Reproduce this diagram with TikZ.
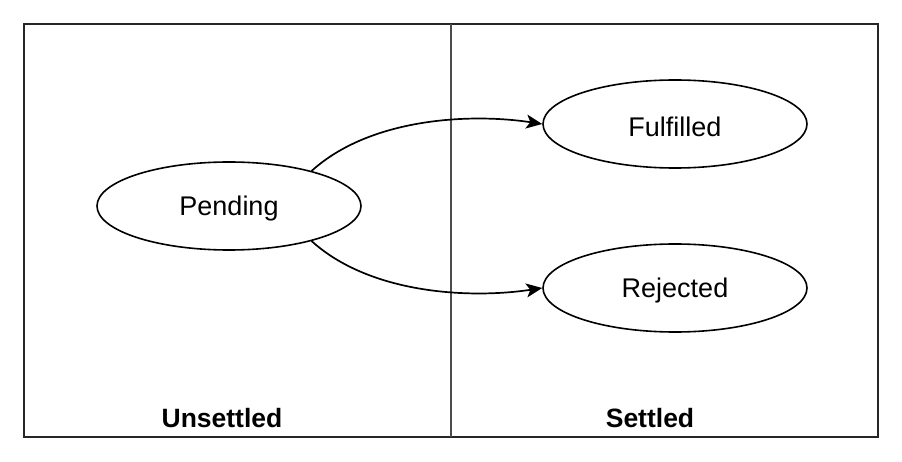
\documentclass[tikz,border=0pt]{standalone}
\usepackage{fontspec}
\setmainfont{Liberation Sans}
\usetikzlibrary{arrows.meta,shapes.geometric}
\newcommand{\lowertext}[1]{\raisebox{-2.5pt}[\height][\depth]{#1}}
\begin{document}
\begin{tikzpicture}[x=1pt,y=-1pt,
  state/.style={ellipse,draw=black,line width=1.6pt,minimum width=264pt,minimum height=88pt,inner sep=0pt,font=\fontsize{27}{32}\selectfont},
  zone/.style={font=\bfseries\fontsize{26.5}{32}\selectfont},
  trans/.style={line width=1.7pt,-{Stealth[length=16pt,width=14pt,inset=4pt]}}]
\useasboundingbox[fill=white] (0,0) rectangle (902,462);
\draw[line width=1.8pt,draw=black!85] (24,24) rectangle (878,437);
\draw[line width=1.6pt,draw=black!70] (451,24) -- (451,437);
\node[state] (pend) at (229,206) {\lowertext{Pending}};
\node[state] (fulf) at (675,124) {\lowertext{Fulfilled}};
\node[state] (rej) at (675,288) {\lowertext{Rejected}};
\node[zone] (uns) at (222,418) {Unsettled};
\node[zone] (set) at (650,418) {Settled};
\draw[trans] (pend.23) .. controls (370,118) and (470,113) .. (fulf.west);
\draw[trans] (pend.-23) .. controls (370,294) and (470,299) .. (rej.west);
\end{tikzpicture}
\end{document}
